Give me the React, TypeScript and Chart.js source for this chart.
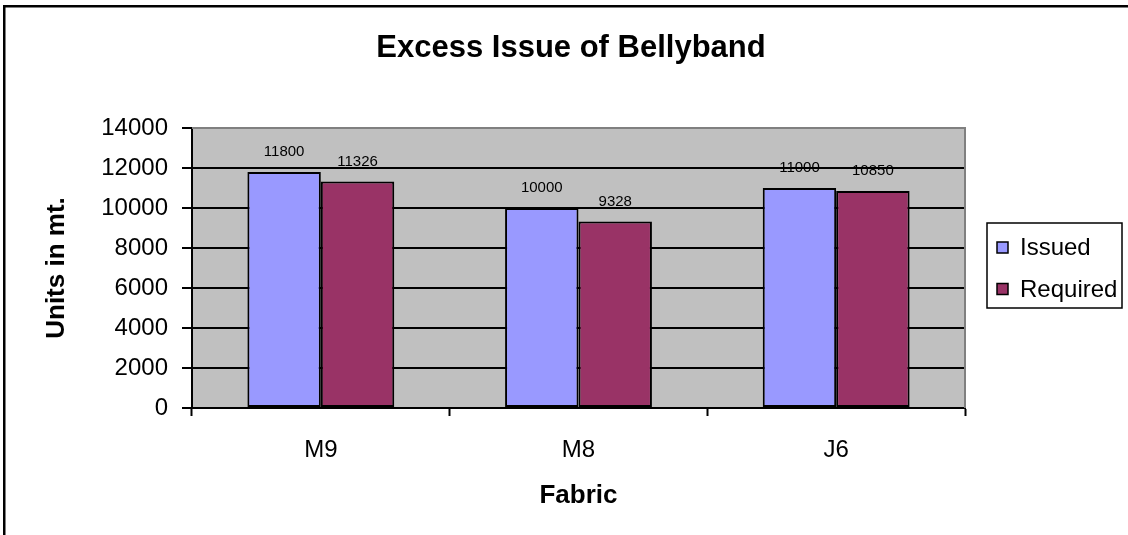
import React, { useEffect, useRef } from 'react';
import { Chart, registerables } from 'chart.js';

Chart.register(...registerables);

const categories = ['M9', 'M8', 'J6'];
const issued = [11800, 10000, 11000];
const required = [11326, 9328, 10850];
const seriesNames = ['Issued', 'Required'];
const seriesColors = ['#9999FF', '#993366'];
const yTicks = [0, 2000, 4000, 6000, 8000, 10000, 12000, 14000];
const chartTitle = 'Excess Issue of Bellyband';
const xTitle = 'Fabric';
const yTitle = 'Units in mt.';

const FONT = "'Liberation Sans', Arial, Helvetica, sans-serif";

const decorPlugin = {
  id: 'decor',
  beforeDraw(chart: any) {
    const { ctx, chartArea: a } = chart;
    ctx.save();
    ctx.fillStyle = '#ffffff';
    ctx.fillRect(0, 0, chart.width, chart.height);
    ctx.fillStyle = '#C0C0C0';
    ctx.fillRect(a.left, a.top, a.right - a.left, a.bottom - a.top);
    ctx.restore();
  },
  beforeDatasetsDraw(chart: any) {
    const { ctx, chartArea: a } = chart;
    ctx.save();
    ctx.strokeStyle = '#808080';
    ctx.lineWidth = 2;
    ctx.beginPath();
    ctx.moveTo(a.left, a.top);
    ctx.lineTo(a.right, a.top);
    ctx.lineTo(a.right, a.bottom);
    ctx.stroke();
    ctx.restore();
  },
  afterDatasetsDraw(chart: any) {
    const { ctx } = chart;
    ctx.save();
    ctx.fillStyle = '#000';
    ctx.font = `15px ${FONT}`;
    ctx.textAlign = 'center';
    ctx.textBaseline = 'middle';
    chart.data.datasets.forEach((ds: any, i: number) => {
      const meta = chart.getDatasetMeta(i);
      meta.data.forEach((el: any, j: number) => {
        ctx.fillText(String(ds.data[j]), el.x, el.y - 20);
      });
    });
    ctx.restore();
  },
  afterDraw(chart: any) {
    const { ctx, chartArea: a } = chart;
    ctx.save();
    // legend box
    const lx = a.right + 22;
    const ly = (a.top + a.bottom) / 2 - 45;
    const lw = 135;
    const lh = 85;
    ctx.fillStyle = '#fff';
    ctx.fillRect(lx, ly, lw, lh);
    ctx.strokeStyle = '#000';
    ctx.lineWidth = 1.5;
    ctx.strokeRect(lx, ly, lw, lh);
    ctx.font = `24px ${FONT}`;
    ctx.textAlign = 'left';
    ctx.textBaseline = 'middle';
    chart.data.datasets.forEach((ds: any, i: number) => {
      const cy = ly + 24.5 + i * 41.5;
      ctx.fillStyle = ds.backgroundColor;
      ctx.fillRect(lx + 10, cy - 5.5, 11, 11);
      ctx.strokeStyle = '#000';
      ctx.lineWidth = 1.5;
      ctx.strokeRect(lx + 10, cy - 5.5, 11, 11);
      ctx.fillStyle = '#000';
      ctx.fillText(ds.label, lx + 33, cy + 1);
    });
    // outer frame
    ctx.fillStyle = '#000';
    ctx.fillRect(3, 5, 2.5, chart.height - 5);
    ctx.fillRect(3, 5, chart.width - 3, 2.5);
    ctx.restore();
  },
};

export default function App() {
  const ref = useRef<HTMLCanvasElement | null>(null);

  useEffect(() => {
    if (!ref.current) return;
    const chart = new Chart(ref.current, {
      type: 'bar',
      data: {
        labels: categories,
        datasets: [
          {
            label: seriesNames[0],
            data: issued,
            backgroundColor: seriesColors[0],
            borderColor: '#000',
            borderWidth: 2,
            borderSkipped: false,
            categoryPercentage: 0.57,
            barPercentage: 1.0,
          },
          {
            label: seriesNames[1],
            data: required,
            backgroundColor: seriesColors[1],
            borderColor: '#000',
            borderWidth: 2,
            borderSkipped: false,
            categoryPercentage: 0.57,
            barPercentage: 1.0,
          },
        ],
      },
      options: {
        responsive: true,
        maintainAspectRatio: false,
        animation: false,
        layout: { padding: { left: 14, right: 0, top: 0, bottom: 0 } },
        plugins: {
          legend: { display: false },
          tooltip: { enabled: false },
          title: {
            display: true,
            text: chartTitle,
            color: '#000',
            font: { family: FONT, size: 31, weight: 'bold', lineHeight: 1.2 },
            padding: { top: 30, bottom: 60.8 },
          },
        },
        scales: {
          x: {
            type: 'category',
            offset: true,
            grid: {
              display: true,
              drawOnChartArea: false,
              drawTicks: true,
              tickLength: 8,
              tickColor: '#000',
              tickWidth: 2,
              offset: true,
            },
            border: { display: true, color: '#000', width: 2 },
            ticks: {
              color: '#000',
              font: { family: FONT, size: 24, lineHeight: 1.2 },
              padding: 19.6,
            },
            title: {
              display: true,
              text: xTitle,
              color: '#000',
              font: { family: FONT, size: 26, weight: 'bold', lineHeight: 1.2 },
              padding: { top: 0, bottom: 24 },
            },
            afterFit(scale: any) {
              scale.height = 127;
            },
          },
          y: {
            type: 'linear',
            min: yTicks[0],
            max: yTicks[yTicks.length - 1],
            afterBuildTicks(scale: any) {
              scale.ticks = yTicks.map((v) => ({ value: v }));
            },
            grid: {
              color: (c: any) => (c.tick && c.tick.value === yTicks[yTicks.length - 1] ? '#808080' : '#000'),
              lineWidth: 2,
              drawTicks: true,
              tickLength: 10,
              tickColor: '#000',
              tickWidth: 2,
            },
            border: { display: true, color: '#000', width: 2 },
            ticks: {
              color: '#000',
              font: { family: FONT, size: 24, lineHeight: 1.2 },
              padding: 14,
              callback: (v: any) => String(v),
            },
            title: {
              display: true,
              text: yTitle,
              color: '#000',
              font: { family: FONT, size: 26, weight: 'bold', lineHeight: 1.2 },
              padding: { top: 27, bottom: 0 },
            },
            afterFit(scale: any) {
              scale.width = 178;
            },
          },
          yRight: {
            type: 'linear',
            position: 'right',
            display: true,
            grid: { display: false, drawTicks: false },
            border: { display: false },
            ticks: { display: false },
            afterFit(scale: any) {
              scale.width = 163;
            },
          },
        },
      },
      plugins: [decorPlugin],
    } as any);
    return () => chart.destroy();
  }, []);

  return (
    <div style={{ position: 'fixed', left: 0, top: 0, width: 1128, height: 535 }}>
      <canvas ref={ref} />
    </div>
  );
}
